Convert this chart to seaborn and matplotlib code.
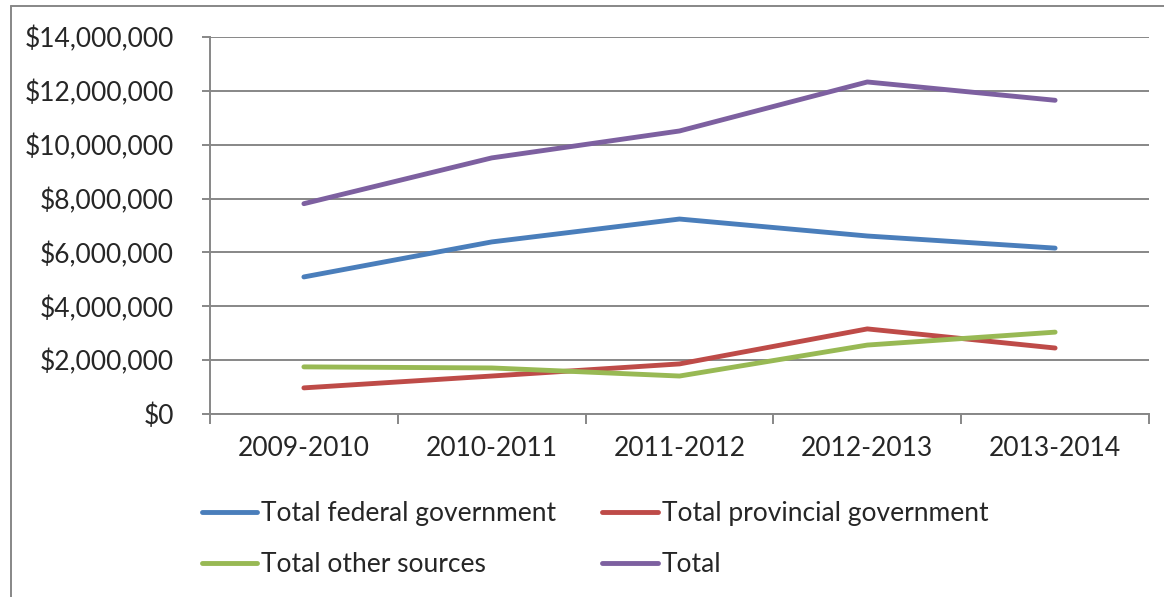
import matplotlib
matplotlib.use("Agg")
import matplotlib.pyplot as plt
import matplotlib.ticker as mticker
from matplotlib.lines import Line2D
import seaborn as sns
import pandas as pd

years = ["2009-2010", "2010-2011", "2011-2012", "2012-2013", "2013-2014"]
federal = [5090000, 6390000, 7240000, 6610000, 6160000]
provincial = [970000, 1410000, 1860000, 3160000, 2450000]
other = [1750000, 1710000, 1410000, 2560000, 3040000]
total = [7810000, 9510000, 10510000, 12330000, 11650000]

series_names = ["Total federal government", "Total provincial government",
                "Total other sources", "Total"]
colors = ["#4A7EBB", "#BE4B48", "#98B954", "#7D60A0"]

rows = []
for name, vals in zip(series_names, [federal, provincial, other, total]):
    for y, v in zip(years, vals):
        rows.append({"Year": y, "Value": v, "Series": name})
df = pd.DataFrame(rows)

sns.set_style("white")
plt.rcParams["font.family"] = ["Lato", "DejaVu Sans"]

FS = 19
W, H = 1164, 597
fig = plt.figure(figsize=(W / 100, H / 100), dpi=100)
ax = fig.add_axes([210 / W, 1 - 414 / H, (1149 - 210) / W, (414 - 37) / H])

sns.lineplot(data=df, x="Year", y="Value", hue="Series", hue_order=series_names,
             palette=colors, linewidth=3.5, ax=ax, legend=False,
             solid_capstyle="round", sort=False)

grid_c = "#878787"
ax.set_xlim(-0.5, 4.5)
ax.set_ylim(0, 14000000)
ax.yaxis.set_major_locator(mticker.MultipleLocator(2000000))
ax.yaxis.set_major_formatter(mticker.FuncFormatter(lambda v, p: "${:,.0f}".format(v)))
ax.grid(axis="y", color=grid_c, linewidth=1.4)
ax.set_axisbelow(True)
ax.set_xlabel("")
ax.set_ylabel("")

for s in ["top", "right"]:
    ax.spines[s].set_visible(False)
for s in ["left", "bottom"]:
    ax.spines[s].set_color(grid_c)
    ax.spines[s].set_linewidth(1.4)

ax.tick_params(axis="y", which="major", direction="out", length=6, width=1.4,
               color=grid_c, labelsize=FS, pad=20, left=True)
ax.xaxis.set_minor_locator(mticker.FixedLocator([-0.5, 0.5, 1.5, 2.5, 3.5, 4.5]))
ax.tick_params(axis="x", which="major", length=0, labelsize=FS, pad=16)
ax.tick_params(axis="x", which="minor", direction="out", length=7.5, width=1.4,
               color=grid_c, bottom=True)

# legend: row-major order for 2 columns
order = [0, 2, 1, 3]
handles = [Line2D([0], [0], color=colors[i], linewidth=3.5, solid_capstyle="round") for i in order]
labels = [series_names[i] for i in order]
fig.legend(handles, labels, ncol=2, loc="upper left",
           bbox_to_anchor=(202 / W, 1 - 501 / H), frameon=False,
           fontsize=FS, handlelength=2.1, handletextpad=0.15,
           labelspacing=1.0, columnspacing=1.73, borderaxespad=0, borderpad=0)

# outer chart border (partially visible)
fig.add_artist(Line2D([11 / W, 11 / W], [0, 1 - 6 / H], color=grid_c, linewidth=1.4,
                      transform=fig.transFigure))
fig.add_artist(Line2D([11 / W, 1], [1 - 6 / H, 1 - 6 / H], color=grid_c, linewidth=1.4,
                      transform=fig.transFigure))

fig.savefig("out.png", dpi=100)
